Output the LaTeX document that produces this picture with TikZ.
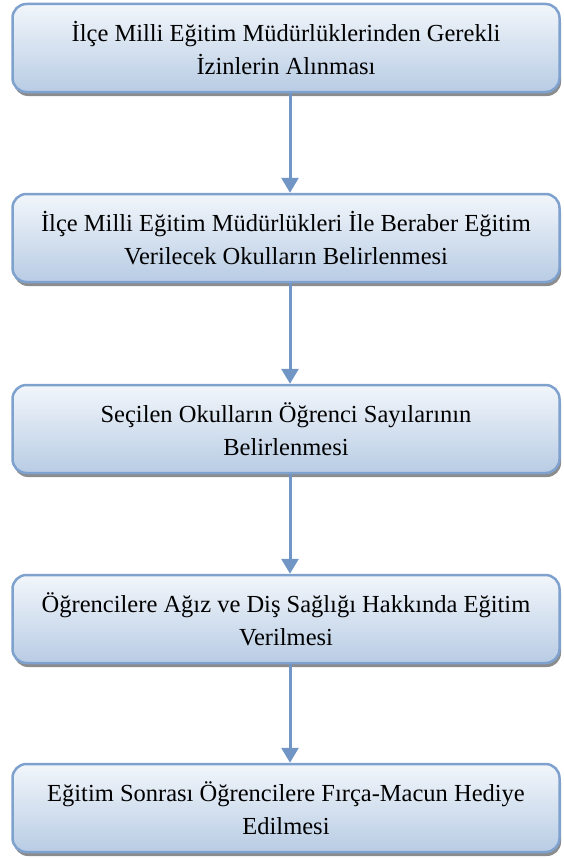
\documentclass[tikz,border=0pt]{standalone}
\usepackage{fontspec}
\setmainfont{Liberation Serif}
\usetikzlibrary{arrows.meta,shadows}
\definecolor{boxline}{HTML}{7EA1CE}
\definecolor{boxtop}{HTML}{F2F6FB}
\definecolor{boxbot}{HTML}{B8CCE4}
\definecolor{arrowc}{HTML}{7196C5}
\tikzset{
  stepbox/.style={rectangle, rounded corners=14pt, draw=boxline, line width=2.5pt,
    top color=boxtop, bottom color=boxbot,
    drop shadow={shadow xshift=1.5pt, shadow yshift=-4pt, fill=black!45, opacity=1},
    minimum width=547pt, minimum height=88pt, align=center,
    font=\fontsize{24.5}{33}\selectfont},
  flow/.style={draw=arrowc, line width=3pt, -{Triangle[width=17pt,length=15pt]}}
}
\begin{document}
\begin{tikzpicture}[x=1pt,y=-1pt]
      \useasboundingbox (0,0) rectangle (563,859);
      \path
        (286,48) node[stepbox] (0){İlçe Milli Eğitim Müdürlüklerinden Gerekli\\İzinlerin Alınması}
        (286,238) node[stepbox] (1){İlçe Milli Eğitim Müdürlükleri İle Beraber Eğitim\\Verilecek Okulların Belirlenmesi}
        (286,429) node[stepbox] (2){Seçilen Okulların Öğrenci Sayılarının\\Belirlenmesi}
        (286,619) node[stepbox] (3){Öğrencilere Ağız ve Diş Sağlığı Hakkında Eğitim\\Verilmesi}
        (286,808) node[stepbox] (4){Eğitim Sonrası Öğrencilere Fırça-Macun Hediye\\Edilmesi};
      \begin{scope}[flow]
        \draw ([xshift=4pt]0.south) to ([xshift=4pt]1.north);
        \draw ([xshift=4pt]1.south) to ([xshift=4pt]2.north);
        \draw ([xshift=4pt]2.south) to ([xshift=4pt]3.north);
        \draw ([xshift=4pt]3.south) to ([xshift=4pt]4.north);
      \end{scope}
    \end{tikzpicture}
\end{document}
